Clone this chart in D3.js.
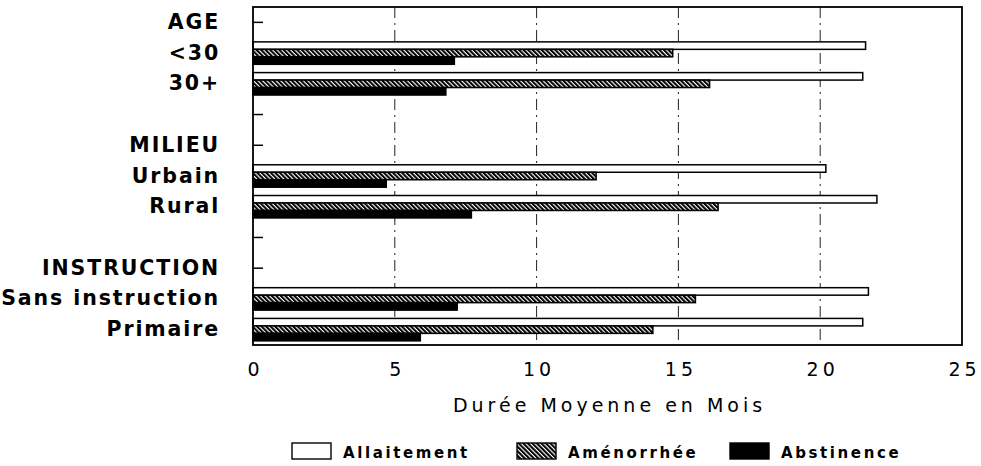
<!DOCTYPE html>
<html>
<head>
<meta charset="utf-8">
<script src="https://cdn.jsdelivr.net/npm/d3@7"></script>
<style>
    body { margin: 0; background: #fff; }
    svg { display: block; }
</style>
</head>
<body>
<div id="chart"></div>
<script>
const width = 981
const height = 466

// rows of the chart, headers and blank spacer rows have no values
const rows = ["AGE", "<30", "30+", "", "MILIEU", "Urbain", "Rural", "", "INSTRUCTION", "Sans instruction", "Primaire"]
const series = ["Allaitement", "Aménorrhée", "Abstinence"]
const allaitement = [null, 21.6, 21.5, null, null, 20.2, 22.0, null, null, 21.7, 21.5]
const amenorrhee = [null, 14.8, 16.1, null, null, 12.1, 16.4, null, null, 15.6, 14.1]
const abstinence = [null, 7.1, 6.8, null, null, 4.7, 7.7, null, null, 7.2, 5.9]
const xTicks = [0, 5, 10, 15, 20, 25]
const xTitle = "Durée Moyenne en Mois"

const margin = { top: 7, right: 19, bottom: 121, left: 253 }
const innerW = width - margin.left - margin.right
const innerH = height - margin.top - margin.bottom
const font = "'DejaVu Sans', Verdana, sans-serif"

const svg = d3.select("#chart").append("svg")
    .attr("width", width)
    .attr("height", height)

// hatch for the amenorrhee bars
const defs = svg.append("defs")
defs.append("pattern")
    .attr("id", "hatch")
    .attr("patternUnits", "userSpaceOnUse")
    .attr("width", 3.2)
    .attr("height", 3.2)
    .attr("patternTransform", "rotate(-45)")
    .call(p => {
        p.append("rect").attr("width", 3.2).attr("height", 3.2).attr("fill", "#fff")
        p.append("line").attr("x1", 1).attr("x2", 1).attr("y1", 0).attr("y2", 3.2)
            .attr("stroke", "#000").attr("stroke-width", 2.1)
    })

const fills = {
    "Allaitement": "#fff",
    "Aménorrhée": "url(#hatch)",
    "Abstinence": "#000"
}
const valuesBySeries = {
    "Allaitement": allaitement,
    "Aménorrhée": amenorrhee,
    "Abstinence": abstinence
}

const g = svg.append("g").attr("transform", `translate(${margin.left},${margin.top})`)

const x = d3.scaleLinear().domain([0, 25]).range([0, innerW])
const y = d3.scaleBand().domain(d3.range(rows.length)).range([0, innerH])
    .paddingInner(0.27).paddingOuter(0.135)
const ySub = d3.scaleBand().domain(series).range([0, y.bandwidth()])

//  GRID LINES  ///////////////////////////////////////////////
g.append("g").attr("class", "grid")
    .selectAll("line")
    .data(xTicks.filter(t => t > 0 && t < 25))
    .join("line")
    .attr("x1", d => x(d)).attr("x2", d => x(d))
    .attr("y1", 0).attr("y2", innerH)
    .attr("stroke", "#222")
    .attr("stroke-width", 1)
    .attr("stroke-dasharray", "11,5,2,5")

//  LEFT AXIS  ////////////////////////////////////////////////
const ls = 1.9
const yAxis = g.append("g")
    .call(d3.axisLeft(y).tickSize(-10).tickPadding(31 + ls).tickFormat(i => rows[i]))
yAxis.select(".domain").remove()
yAxis.selectAll(".tick line").attr("stroke", "#000").attr("stroke-width", 1.5)
yAxis.selectAll(".tick text")
    .attr("fill", "#000")
    .style("font-family", font)
    .style("font-size", "20.5px")
    .style("font-weight", "bold")
    .style("letter-spacing", ls + "px")

//  BARS  /////////////////////////////////////////////////////
const barData = []
series.forEach(s => {
    valuesBySeries[s].forEach((v, i) => {
        if (v != null) barData.push({ row: i, series: s, value: v })
    })
})
g.append("g").attr("class", "bars")
    .selectAll("rect")
    .data(barData)
    .join("rect")
    .attr("x", x(0))
    .attr("y", d => y(d.row) + ySub(d.series))
    .attr("width", d => x(d.value) - x(0))
    .attr("height", ySub.bandwidth())
    .attr("fill", d => fills[d.series])
    .attr("stroke", "#000")
    .attr("stroke-width", 1.5)

//  FRAME + BOTTOM AXIS  //////////////////////////////////////
g.append("rect")
    .attr("width", innerW)
    .attr("height", innerH)
    .attr("fill", "none")
    .attr("stroke", "#000")
    .attr("stroke-width", 1.8)

const xAxis = g.append("g")
    .attr("transform", `translate(0,${innerH})`)
    .call(d3.axisBottom(x).tickValues(xTicks).tickSize(0).tickPadding(18).tickFormat(d3.format("d")))
xAxis.select(".domain").remove()
xAxis.selectAll(".tick text")
    .attr("fill", "#000")
    .attr("dx", "2px")
    .style("font-family", font)
    .style("font-size", "19px")
    .style("letter-spacing", "4px")

svg.append("text")
    .attr("x", margin.left + innerW / 2 + 2)
    .attr("y", 412)
    .attr("text-anchor", "middle")
    .style("font-family", font)
    .style("font-size", "19px")
    .style("letter-spacing", "4px")
    .text(xTitle)

//  LEGEND  ///////////////////////////////////////////////////
const legendX = [292, 517, 730]
const legend = svg.append("g").attr("class", "legend")
    .selectAll("g")
    .data(series)
    .join("g")
    .attr("transform", (d, i) => `translate(${legendX[i]},443)`)
legend.append("rect")
    .attr("width", 39)
    .attr("height", 16)
    .attr("fill", d => fills[d])
    .attr("stroke", "#000")
    .attr("stroke-width", 1.4)
legend.append("text")
    .attr("x", 51)
    .attr("y", 15)
    .style("font-family", font)
    .style("font-size", "15px")
    .style("font-weight", "bold")
    .style("letter-spacing", "2.6px")
    .text(d => d)
</script>
</body>
</html>
